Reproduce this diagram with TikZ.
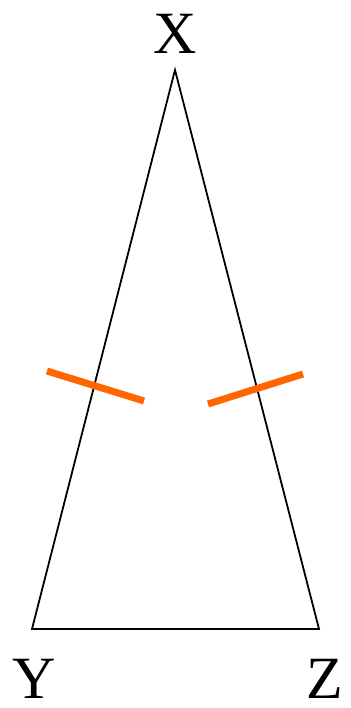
\documentclass[tikz,border=0pt]{standalone}
\usepackage{fontspec}
\setmainfont{Liberation Serif}
\definecolor{tickorange}{HTML}{FF6600}
\tikzset{
  vlabel/.style={inner sep=0pt, font=\fontsize{60}{70}\selectfont},
  side/.style={draw=black, line width=1.8pt, line join=miter},
  tickmark/.style={draw=tickorange, line width=7pt}
}
\begin{document}
\begin{tikzpicture}[x=1pt,y=-1pt]
\useasboundingbox (0,0) rectangle (350,708);
\coordinate (x) at (175,70);
\coordinate (y) at (32,629);
\coordinate (z) at (319,629);
\draw[side] (x) -- (y) -- (z) -- cycle;
\node[vlabel] (lx) at (175,34) {X};
\node[vlabel] (ly) at (34,679) {Y};
\node[vlabel] (lz) at (325,679) {Z};
\coordinate (t1a) at (47,371);
\coordinate (t1b) at (144,401);
\coordinate (t2a) at (208,404);
\coordinate (t2b) at (303,374);
\draw[tickmark] (t1a) -- (t1b);
\draw[tickmark] (t2a) -- (t2b);
\end{tikzpicture}
\end{document}
